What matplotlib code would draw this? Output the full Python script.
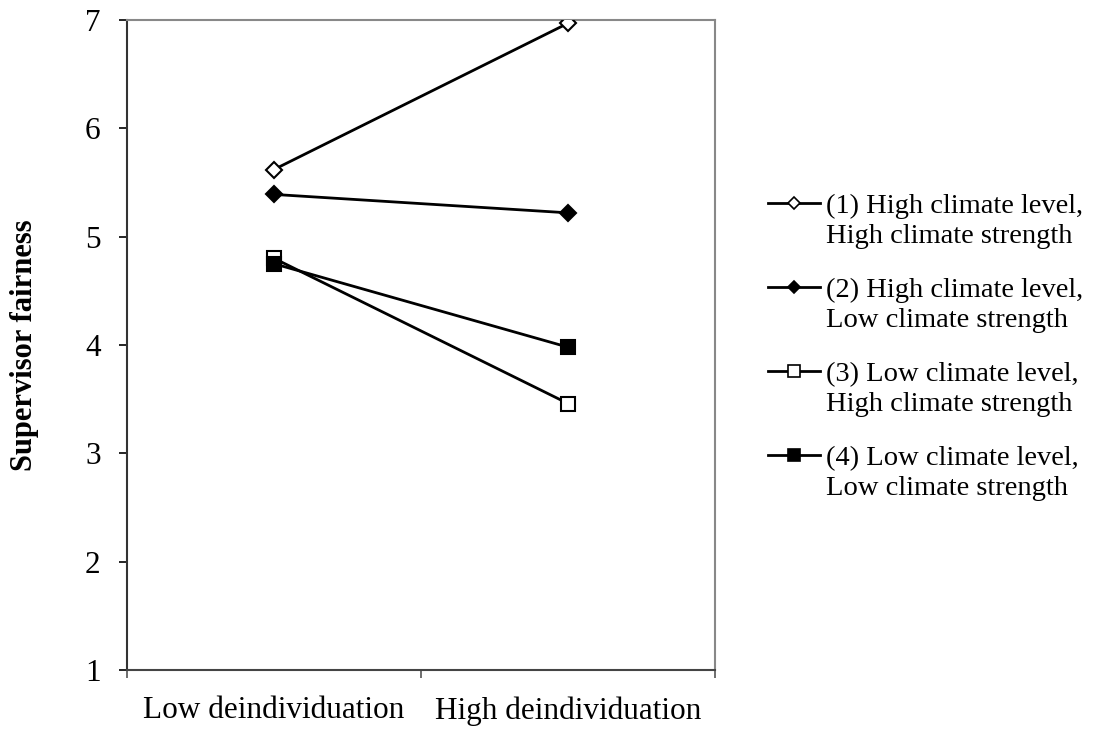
import matplotlib.pyplot as plt
from matplotlib.lines import Line2D

plt.rcParams['font.family'] = ['Liberation Serif', 'DejaVu Serif']

# categorias del eje x y valores de cada serie
categorias = ["Low deindividuation", "High deindividuation"]
serie1 = [5.62, 6.97]
serie2 = [5.39, 5.22]
serie3 = [4.80, 3.46]
serie4 = [4.75, 3.98]
etiquetas = [
    ("(1) High climate level,", "High climate strength"),
    ("(2) High climate level,", "Low climate strength"),
    ("(3) Low climate level,", "High climate strength"),
    ("(4) Low climate level,", "Low climate strength"),
]
y_ticks = [1, 2, 3, 4, 5, 6, 7]

W, H = 1094, 729
fig = plt.figure(figsize=(W / 100, H / 100), dpi=100)
ax = fig.add_axes([127 / W, 1 - 670 / H, 588 / W, 650 / H])

x = [0.5, 1.5]
estilos = [
    dict(marker='D', markerfacecolor='white', markersize=8),
    dict(marker='D', markerfacecolor='black', markersize=8),
    dict(marker='s', markerfacecolor='white', markersize=10),
    dict(marker='s', markerfacecolor='black', markersize=10),
]
series = [serie1, serie2, serie3, serie4]
for s, st in zip(series, estilos):
    ax.plot(x, s, color='black', linewidth=2, markeredgecolor='black',
            markeredgewidth=1.5, zorder=3, **st)

ax.set_xlim(0, 2)
ax.set_ylim(1, 7)
ax.set_yticks(y_ticks)
ax.set_xticks([0, 1, 2])
ax.set_xticklabels([])
ax.set_xticks(x, minor=True)
ax.set_xticklabels(categorias, minor=True)
ax.tick_params(axis='x', which='minor', length=0, labelsize=22.5, pad=19)
ax.tick_params(axis='x', which='major', direction='out', length=6, width=1.2, color='#555555')
ax.tick_params(axis='y', direction='out', length=6, width=1.2, labelsize=22.5, pad=13)

for lado in ['top', 'right']:
    ax.spines[lado].set_color('#888888')
    ax.spines[lado].set_linewidth(1.5)
ax.spines['left'].set_color('#333333')
ax.spines['bottom'].set_color('#444444')
ax.spines['left'].set_linewidth(1.5)
ax.spines['bottom'].set_linewidth(1.5)

ax.set_ylabel("Supervisor fairness", fontsize=22, fontweight='bold', labelpad=33)

# leyenda manual: el simbolo va alineado con la primera linea del texto
leg_estilos = [
    dict(marker='D', markerfacecolor='white', markersize=6),
    dict(marker='D', markerfacecolor='black', markersize=6),
    dict(marker='s', markerfacecolor='white', markersize=8),
    dict(marker='s', markerfacecolor='black', markersize=8),
]
for i, (lab, st) in enumerate(zip(etiquetas, leg_estilos)):
    base = 213 + 84 * i
    yh = 1 - (base - 10) / H
    fig.add_artist(Line2D([768 / W, 820 / W], [yh, yh], color='black',
                          linewidth=2, transform=fig.transFigure))
    fig.add_artist(Line2D([794 / W], [yh], color='black', markeredgecolor='black',
                          markeredgewidth=1.2, transform=fig.transFigure, **st))
    fig.text(826 / W, 1 - base / H, lab[0], fontsize=20.5, va='baseline')
    fig.text(826 / W, 1 - (base + 30) / H, lab[1], fontsize=20.5, va='baseline')

plt.savefig('out.png', dpi=100)
